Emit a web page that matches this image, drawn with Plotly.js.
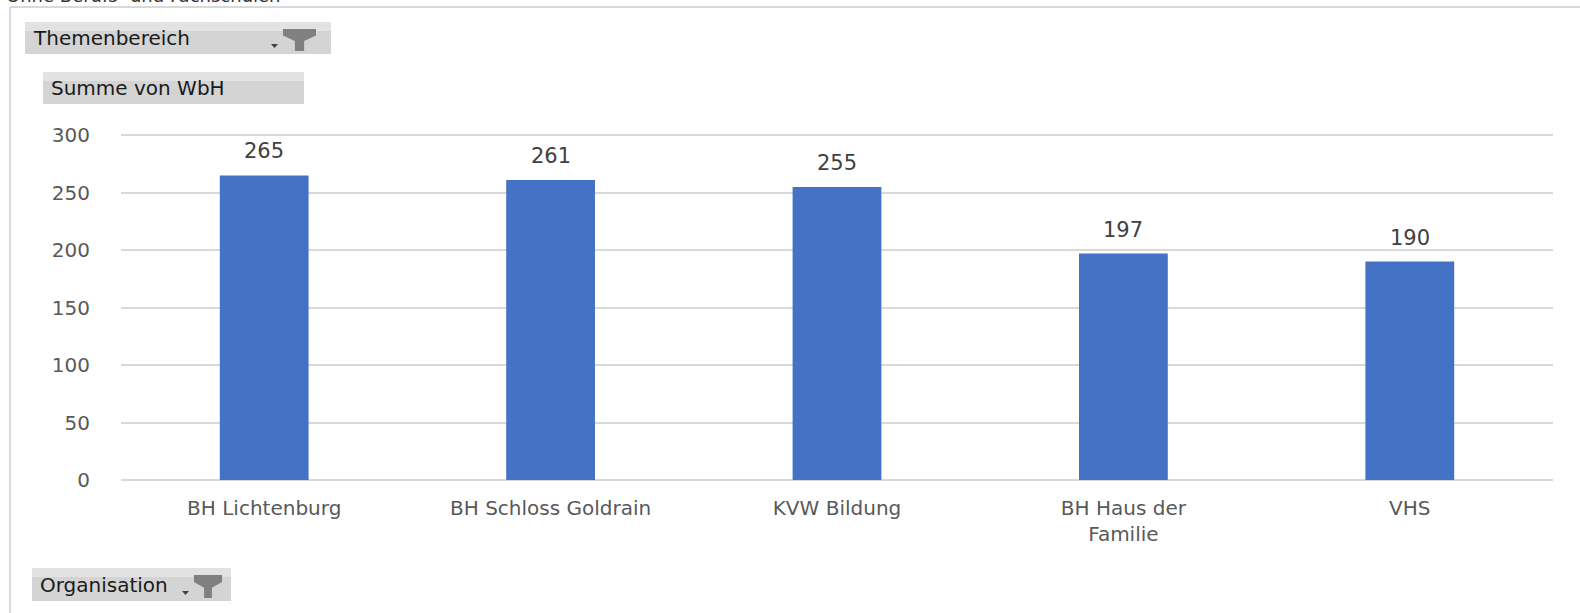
<!DOCTYPE html>
<html>
<head>
<meta charset="utf-8">
<script src="https://cdn.plot.ly/plotly-3.0.1.min.js"></script>
<style>html,body{margin:0;padding:0;background:#fff;}#chart{width:1580px;height:613px;}</style>
</head>
<body>
<div id="chart"></div>
<script>
const categories = ["BH Lichtenburg", "BH Schloss Goldrain", "KVW Bildung", "BH Haus der<br>Familie", "VHS"];
const values = [265, 261, 255, 197, 190];
const yTickVals = [0, 50, 100, 150, 200, 250, 300];
const topNote = "Ohne Berufs- und Fachschulen";
const filterLabels = ["Themenbereich", "Summe von WbH", "Organisation"];

const W = 1580, H = 613;
const L = 121, R = 1553, T = 134, B = 480;
const px = v => (v - L) / (R - L);
const py = v => (B - v) / (B - T);

const shapes = [];
const annotations = [];

// outer frame
shapes.push({type:'line', xref:'paper', yref:'paper', x0:px(10), x1:px(10), y0:py(7), y1:py(640), line:{color:'#d9d9d9', width:2}});
shapes.push({type:'line', xref:'paper', yref:'paper', x0:px(10), x1:px(1600), y0:py(7), y1:py(7), line:{color:'#d9d9d9', width:2}});

function button(x0, y0, x1, y1, label, funnel) {
  shapes.push({type:'rect', xref:'paper', yref:'paper', x0:px(x0), x1:px(x1), y0:py(y0), y1:py(y1),
    fillcolor:'#d4d4d4', line:{width:0}, layer:'below'});
  shapes.push({type:'rect', xref:'paper', yref:'paper', x0:px(x0), x1:px(x1), y0:py(y0), y1:py(y0+9),
    fillcolor:'#e2e2e2', line:{width:0}, layer:'below'});
  annotations.push({xref:'paper', yref:'paper', x:px(x0+6), y:py((y0+y1)/2), xanchor:'left', yanchor:'middle',
    text:label, showarrow:false, font:{family:'DejaVu Sans', size:20, color:'#1a1a1a'}});
  if (funnel) {
    const fx0 = funnel[0], fx1 = funnel[1], fy0 = y0 + 7, fy1 = y1 - 3;
    const mid = (fx0 + fx1) / 2, w = fx1 - fx0;
    const sx0 = mid - w * 0.14, sx1 = mid + w * 0.14;
    const ym = fy0 + (fy1 - fy0) * 0.3, ym2 = fy0 + (fy1 - fy0) * 0.55;
    const P = (a, b) => px(a) + ',' + py(b);
    shapes.push({type:'path', xref:'paper', yref:'paper',
      path:'M' + P(fx0, fy0) + ' L' + P(fx1, fy0) + ' L' + P(fx1, ym) + ' L' + P(sx1, ym2) + ' L' + P(sx1, fy1) +
           ' L' + P(sx0, fy1) + ' L' + P(sx0, ym2) + ' L' + P(fx0, ym) + ' Z',
      fillcolor:'#808080', line:{width:0}});
    const ax0 = fx0 - 12, ax1 = fx0 - 5, ay = fy1 - 7;
    shapes.push({type:'path', xref:'paper', yref:'paper',
      path:'M' + P(ax0, ay) + ' L' + P(ax1, ay) + ' L' + P((ax0 + ax1) / 2, ay + 4) + ' Z',
      fillcolor:'#404040', line:{width:0}});
  }
}
button(25, 22, 331, 54, filterLabels[0], [283, 316]);
button(43, 72, 304, 104, filterLabels[1], null);
button(32, 568, 231, 601, filterLabels[2], [194, 222]);

// partially cut top note (only lower part visible, as in the reference)
annotations.push({xref:'paper', yref:'paper', x:px(4), y:py(-4), xanchor:'left', yanchor:'middle',
  text:topNote, showarrow:false, font:{family:'DejaVu Sans', size:18, color:'#333'}});

// data labels
categories.forEach((c, i) => {
  annotations.push({x:c, y:values[i], xref:'x', yref:'y', text:String(values[i]), showarrow:false,
    yanchor:'bottom', yshift:10, font:{family:'DejaVu Sans', size:21, color:'#404040'}});
});

const data = [{
  type:'bar', x:categories, y:values, marker:{color:'#4472c4'}, hoverinfo:'x+y'
}];

const layout = {
  width:W, height:H,
  margin:{l:L, r:W - R, t:T, b:H - B, pad:0},
  paper_bgcolor:'#ffffff', plot_bgcolor:'#ffffff',
  bargap:0.69,
  showlegend:false,
  xaxis:{type:'category', showgrid:false, zeroline:false, showline:false, ticks:'',
    tickfont:{family:'DejaVu Sans', size:20, color:'#595959'}, ticklabelstandoff:14, fixedrange:true},
  yaxis:{range:[0, 301], tickvals:yTickVals, showgrid:true, gridcolor:'#d9d9d9', gridwidth:2,
    zeroline:true, zerolinecolor:'#d9d9d9', zerolinewidth:2, showline:false, ticks:'',
    tickfont:{family:'DejaVu Sans', size:20, color:'#595959'}, ticklabelstandoff:30, fixedrange:true},
  shapes:shapes,
  annotations:annotations
};

Plotly.newPlot('chart', data, layout, {displayModeBar:false, staticPlot:true});
</script>
</body>
</html>
